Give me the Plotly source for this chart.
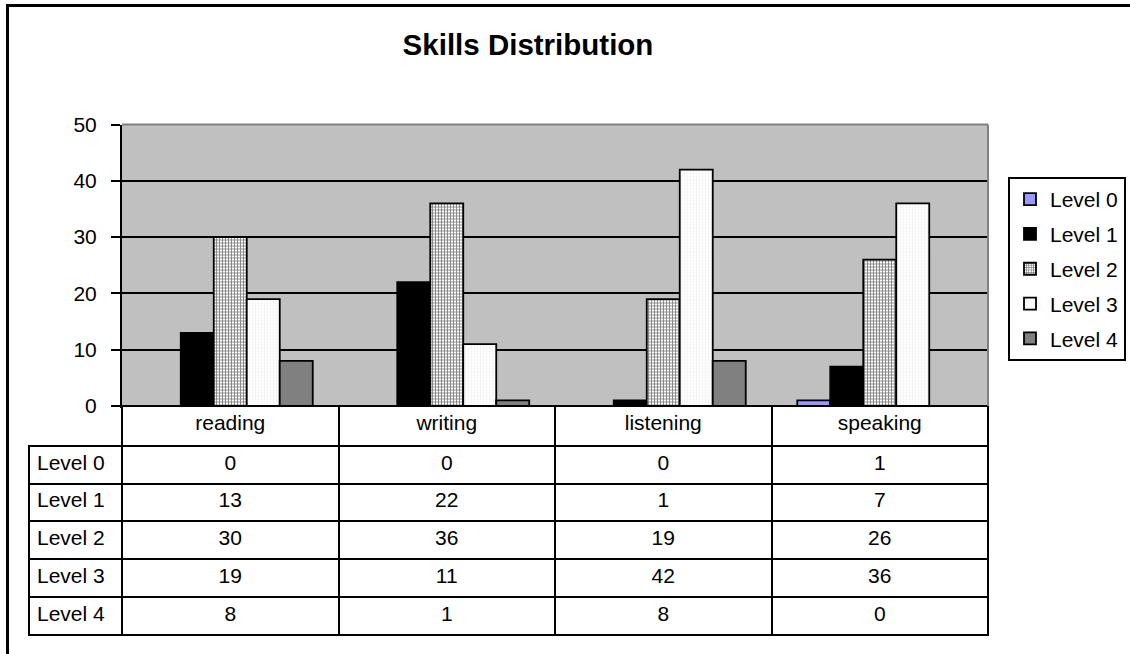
import plotly.graph_objects as go

categories = ["reading", "writing", "listening", "speaking"]
series_names = ["Level 0", "Level 1", "Level 2", "Level 3", "Level 4"]
level0 = [0, 0, 0, 1]
level1 = [13, 22, 1, 7]
level2 = [30, 36, 19, 26]
level3 = [19, 11, 42, 36]
level4 = [8, 1, 8, 0]
y_ticks = [0, 10, 20, 30, 40, 50]

W, H = 1130, 654
FONT = "Arial, Liberation Sans, sans-serif"
FS = 21

def px_x(v):
    return v / W

def px_y(v):
    return 1 - v / H

values = [level0, level1, level2, level3, level4]
styles = [
    dict(color="#9999FF"),
    dict(color="#000000"),
    dict(color="#FFFFFF", pattern=dict(shape="+", fgcolor="#000000", bgcolor="#FFFFFF", size=3, solidity=0.5)),
    dict(color="#FFFFFF", pattern=dict(shape=".", fgcolor="#DDDDDD", bgcolor="#FFFFFF", size=3, solidity=0.3)),
    dict(color="#808080"),
]

fig = go.Figure()
for name, vals, st in zip(series_names, values, styles):
    marker = dict(line=dict(color="#000000", width=1.8))
    marker.update(st)
    fig.add_trace(go.Bar(
        x=categories, y=vals, name=name, marker=marker,
        legendgroup=name, hoverinfo="skip",
    ))

# data table below the chart
fig.add_trace(go.Table(
    domain=dict(x=[px_x(29), px_x(988)], y=[px_y(640), px_y(406)]),
    columnwidth=[93, 216.5, 216.5, 216.5, 216.5],
    header=dict(
        values=[""] + categories,
        height=40,
        align="center",
        fill=dict(color=["rgba(0,0,0,0)", "white", "white", "white", "white"]),
        line=dict(color=["rgba(0,0,0,0)", "black", "black", "black", "black"], width=2),
        font=dict(family=FONT, size=FS, color="black"),
    ),
    cells=dict(
        values=[series_names] + [[v[i] for v in values] for i in range(len(categories))],
        height=37.7,
        align=["left", "center", "center", "center", "center"],
        fill=dict(color="white"),
        line=dict(color="black", width=2),
        font=dict(family=FONT, size=FS, color="black"),
    ),
))

fig.update_layout(
    width=W, height=H,
    margin=dict(l=0, r=0, t=0, b=0, autoexpand=False),
    paper_bgcolor="white",
    plot_bgcolor="#C0C0C0",
    barmode="group",
    bargap=0.238,
    bargroupgap=0,
    font=dict(family=FONT, size=FS, color="black"),
    title=dict(
        text="<b>Skills Distribution</b>",
        x=px_x(528), xanchor="center",
        y=px_y(45), yanchor="middle",
        font=dict(family=FONT, size=29.5, color="black"),
    ),
    xaxis=dict(
        domain=[px_x(122), px_x(988)],
        showticklabels=False, ticks="",
        showline=True, linecolor="black", linewidth=2,
        showgrid=False, automargin=False,
        fixedrange=True,
    ),
    yaxis=dict(
        domain=[px_y(406), px_y(124.5)],
        range=[0, 50],
        tickvals=y_ticks,
        ticks="outside", ticklen=9, tickwidth=2, tickcolor="black",
        showline=True, linecolor="black", linewidth=2,
        showgrid=True, gridcolor="black", gridwidth=2,
        zeroline=False, automargin=False,
        tickfont=dict(family=FONT, size=FS, color="black"),
        ticklabelstandoff=10,
        fixedrange=True,
    ),
    legend=dict(
        x=px_x(1008), xanchor="left",
        y=px_y(177), yanchor="top",
        bgcolor="white", bordercolor="black", borderwidth=2,
        font=dict(family=FONT, size=FS, color="black"),
        traceorder="grouped", tracegroupgap=4.5,
        itemwidth=30,
    ),
    showlegend=True,
    shapes=[
        # gray top and right borders of the plot area
        dict(type="line", xref="x domain", yref="y domain", x0=0, x1=1, y0=1, y1=1,
             line=dict(color="#808080", width=2), layer="above"),
        dict(type="line", xref="x domain", yref="y domain", x0=1, x1=1, y0=0, y1=1,
             line=dict(color="#808080", width=2), layer="above"),
        # outer chart frame
        dict(type="path", xref="paper", yref="paper",
             path=f"M {px_x(7.5)},0 L {px_x(7.5)},{px_y(5.5)} L 1,{px_y(5.5)}",
             line=dict(color="black", width=3)),
    ],
)

fig.write_html("out.html")
